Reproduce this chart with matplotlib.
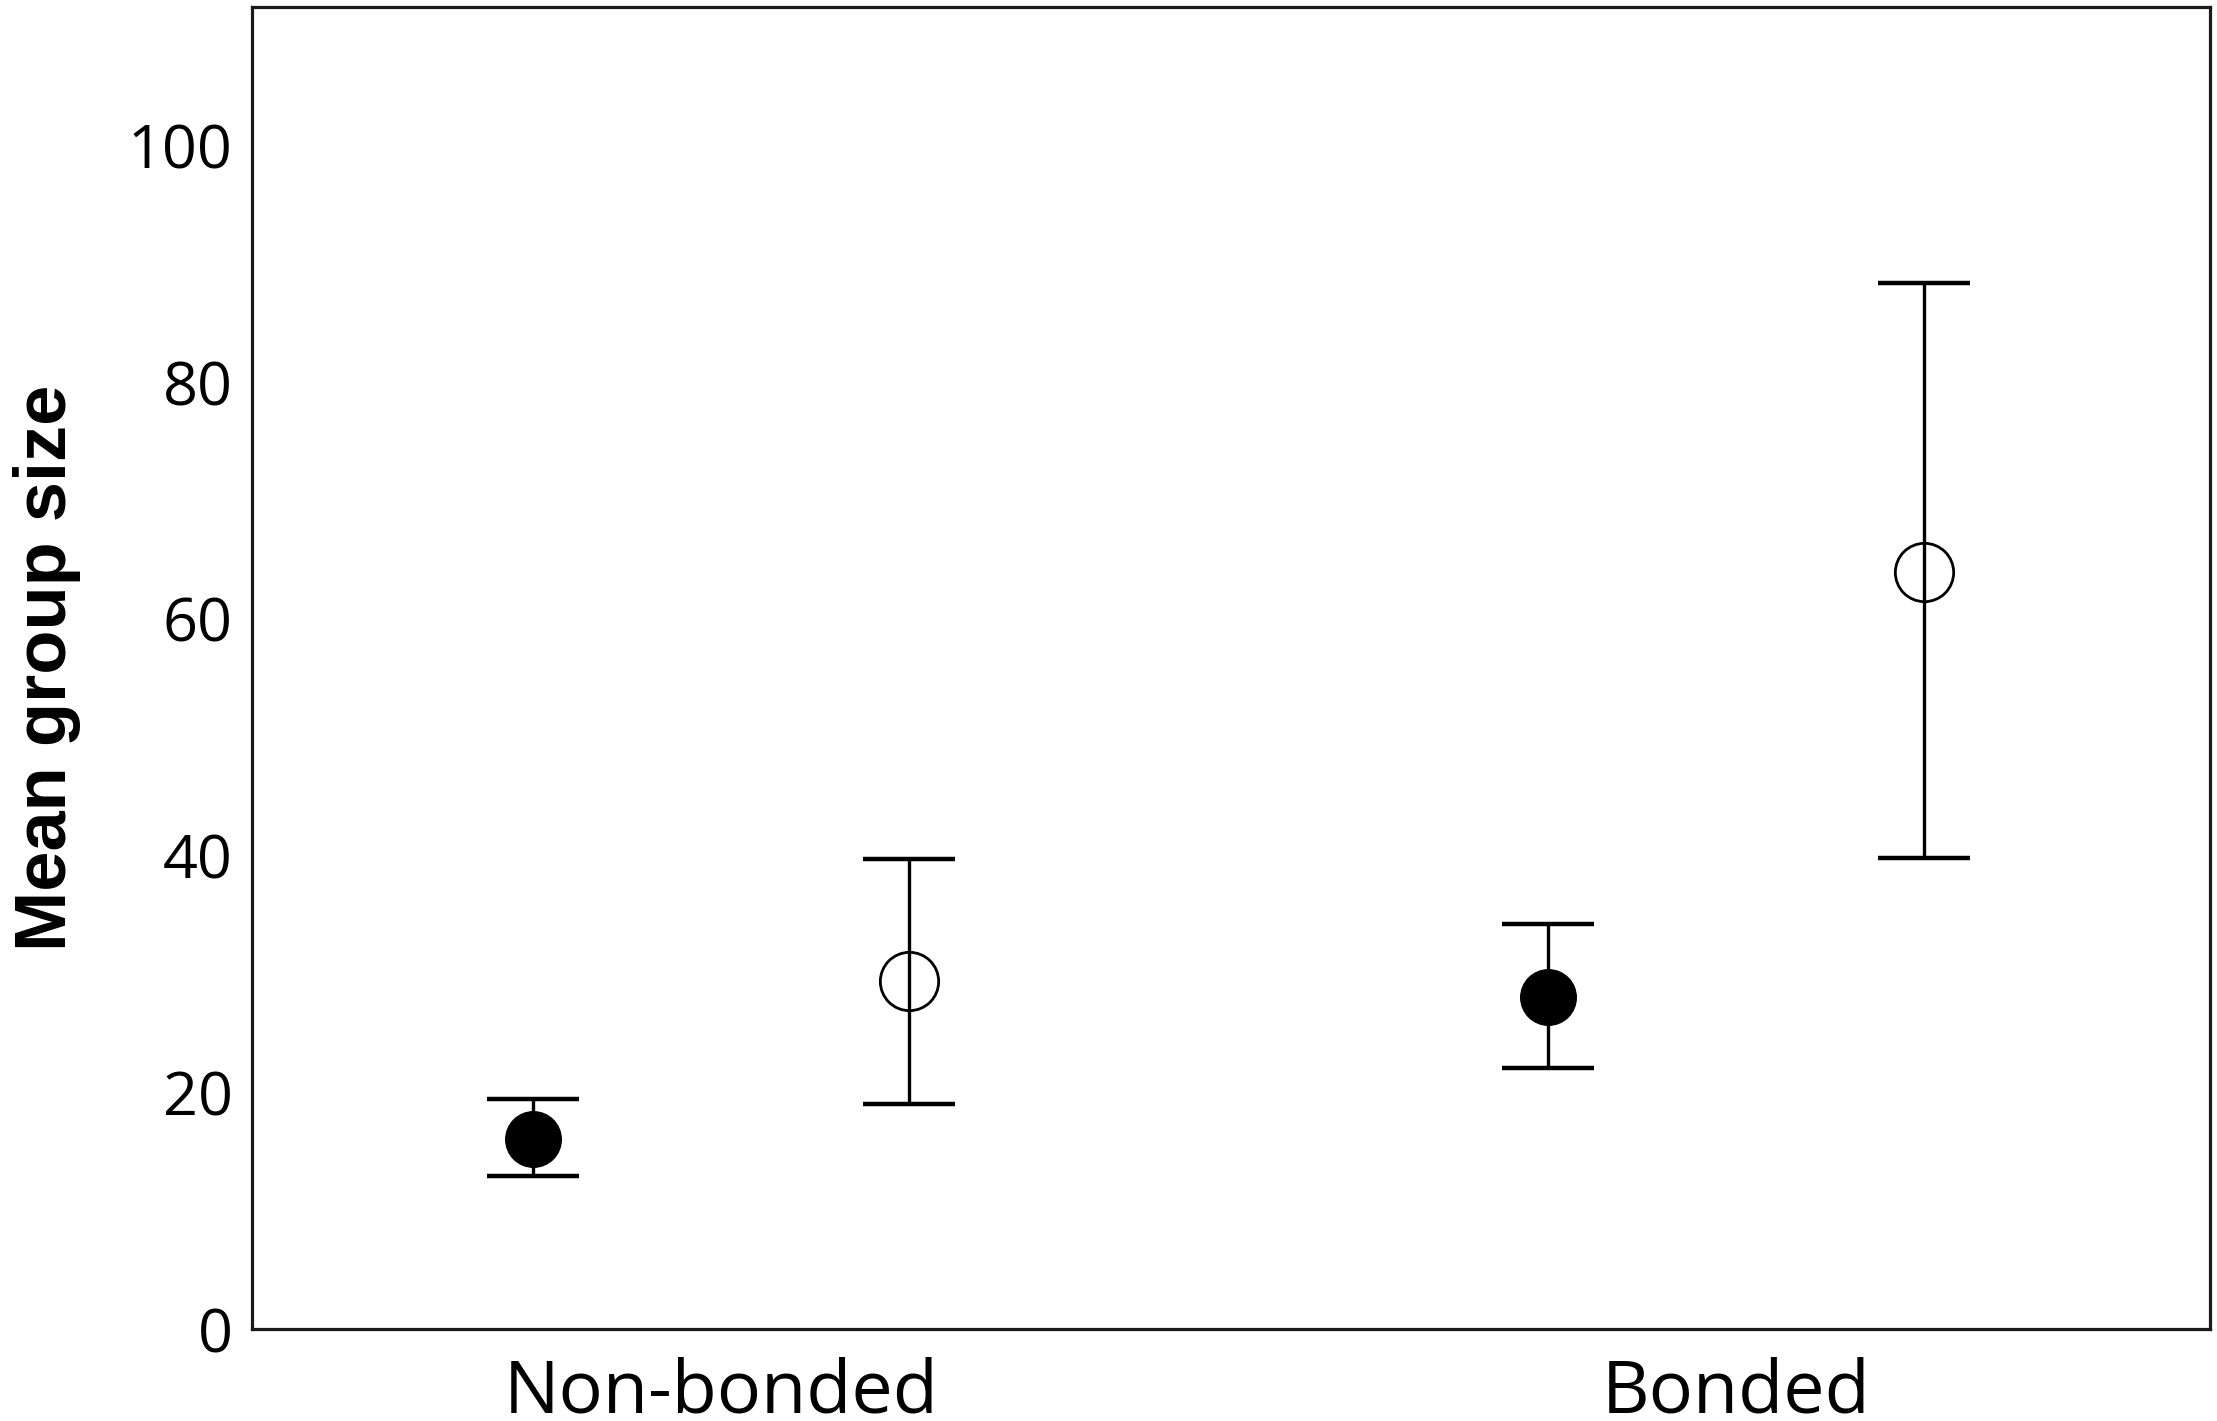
import matplotlib
matplotlib.use('Agg')
import matplotlib.pyplot as plt
import numpy as np

categories = ['Non-bonded', 'Bonded']

# filled circles
filled_mean = [16.1, 28.1]
filled_low = [12.9, 22.1]
filled_high = [19.4, 34.2]

# open circles
open_mean = [29.4, 64.0]
open_low = [19.0, 39.8]
open_high = [39.7, 88.4]

plt.rcParams['font.family'] = ['Open Sans', 'DejaVu Sans']

fig = plt.figure(figsize=(22.17, 14.21), dpi=100)
ax = fig.add_axes([0.1137, 0.0647, 0.8831, 0.9303])

x = np.arange(len(categories))
off = 0.185

fm = np.array(filled_mean)
om = np.array(open_mean)
ferr = [fm - np.array(filled_low), np.array(filled_high) - fm]
oerr = [om - np.array(open_low), np.array(open_high) - om]

ax.errorbar(x - off, fm, yerr=ferr, fmt='none', ecolor='black',
            elinewidth=2.4, capsize=33, capthick=3.2)
ax.plot(x - off, fm, 'o', color='black', markersize=40, zorder=3)

ax.errorbar(x + off, om, yerr=oerr, fmt='none', ecolor='black',
            elinewidth=2.4, capsize=33, capthick=3.2)
ax.plot(x + off, om, 'o', markerfacecolor='none', markeredgecolor='black',
        markeredgewidth=2, markersize=42, zorder=3)

ax.set_xlim(-0.462, 1.467)
ax.set_ylim(0, 111.7)
ax.set_yticks([0, 20, 40, 60, 80, 100])
ax.set_xticks(x)
ax.set_xticklabels(categories)
ax.tick_params(axis='both', length=0)
ax.tick_params(axis='y', pad=14, labelsize=44)
ax.tick_params(axis='x', pad=20, labelsize=53)

for s in ax.spines.values():
    s.set_linewidth(2.3)
    s.set_color('#1a1a1a')

ax.set_ylabel('Mean group size', fontsize=52, fontweight='bold',
              family=['Liberation Sans', 'DejaVu Sans'], labelpad=34)

fig.savefig('out.png', dpi=100)
